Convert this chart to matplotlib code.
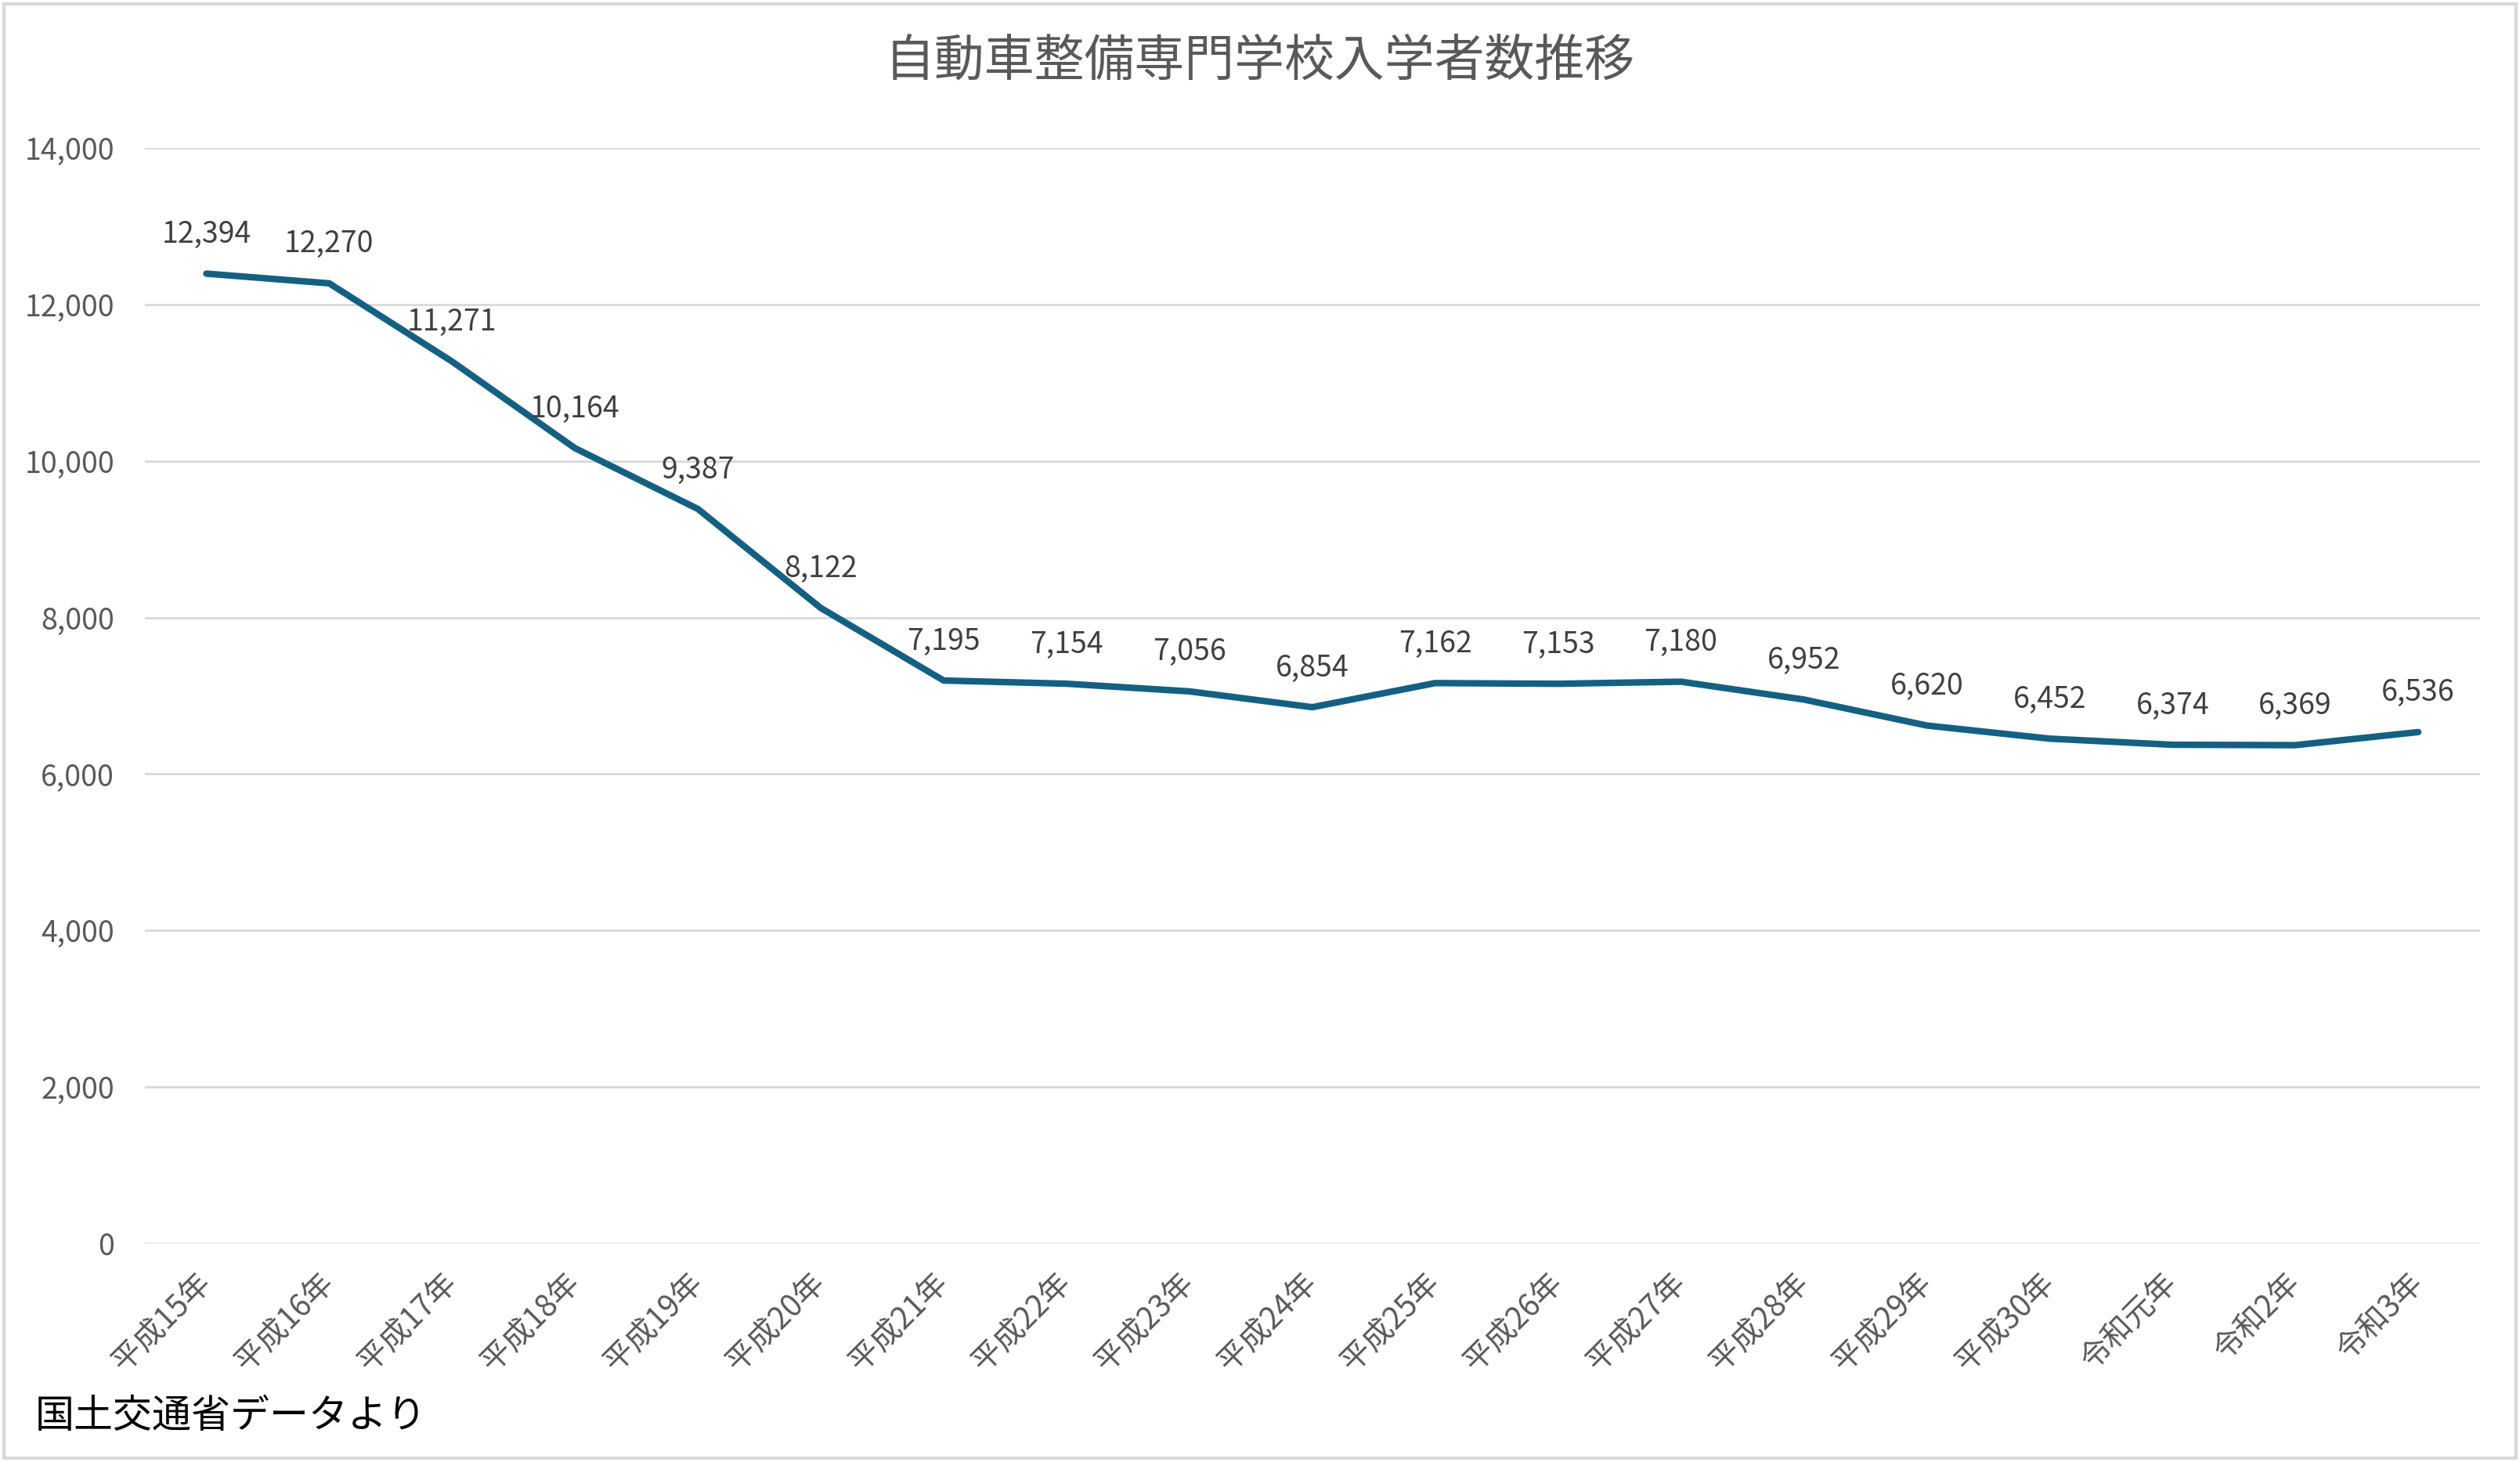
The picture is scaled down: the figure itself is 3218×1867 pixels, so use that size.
import matplotlib
matplotlib.use("Agg")
import matplotlib.pyplot as plt
from matplotlib.patches import Rectangle
from matplotlib.ticker import FuncFormatter

plt.rcParams['font.family'] = ['Noto Sans CJK JP', 'DejaVu Sans']

# 年度と入学者数
years = ["平成15年", "平成16年", "平成17年", "平成18年", "平成19年", "平成20年",
         "平成21年", "平成22年", "平成23年", "平成24年", "平成25年", "平成26年",
         "平成27年", "平成28年", "平成29年", "平成30年", "令和元年", "令和2年", "令和3年"]
students = [12394, 12270, 11271, 10164, 9387, 8122, 7195, 7154, 7056, 6854,
            7162, 7153, 7180, 6952, 6620, 6452, 6374, 6369, 6536]
yticks = [0, 2000, 4000, 6000, 8000, 10000, 12000, 14000]

LINE = "#156082"
GRID = "#d9d9d9"
TICK = "#595959"
LABEL = "#404040"

fig = plt.figure(figsize=(16.09, 9.335), dpi=200)
ax = fig.add_axes([0.0575, 0.1494, 0.9265, 0.7494])

x = list(range(len(years)))
ax.plot(x, students, color=LINE, linewidth=3.0, solid_capstyle="round",
        solid_joinstyle="round", zorder=3)

for xi, v in zip(x, students):
    ax.annotate(f"{v:,}", xy=(xi, v), xytext=(0, 18), textcoords="offset points",
                ha="center", va="center", fontsize=13.5, color=LABEL, zorder=4)

ax.set_xlim(-0.5, len(years) - 0.5)
ax.set_ylim(0, 14000)
ax.set_yticks(yticks)
ax.yaxis.set_major_formatter(FuncFormatter(lambda v, p: f"{int(v):,}"))
ax.set_xticks(x)
ax.set_xticklabels(years, rotation=45, rotation_mode="anchor", ha="right", va="center")

ax.grid(axis="y", color=GRID, linewidth=1.0)
ax.set_axisbelow(True)
for s in ax.spines.values():
    s.set_visible(False)
ax.tick_params(axis="y", length=0, pad=14, labelsize=13.5, labelcolor=TICK)
ax.tick_params(axis="x", length=0, pad=16, labelsize=14, labelcolor=TICK)

fig.text(0.5, 0.958, "自動車整備専門学校入学者数推移", ha="center", va="center",
         fontsize=23, color=TICK)
fig.text(0.014, 0.031, "国土交通省データより", ha="left", va="center",
         fontsize=18, color="black")

fig.patches.append(Rectangle((0.0015, 0.0025), 0.997, 0.995, transform=fig.transFigure,
                             fill=False, edgecolor=GRID, linewidth=1.5))

fig.savefig("out.png", dpi=200, facecolor="white")
